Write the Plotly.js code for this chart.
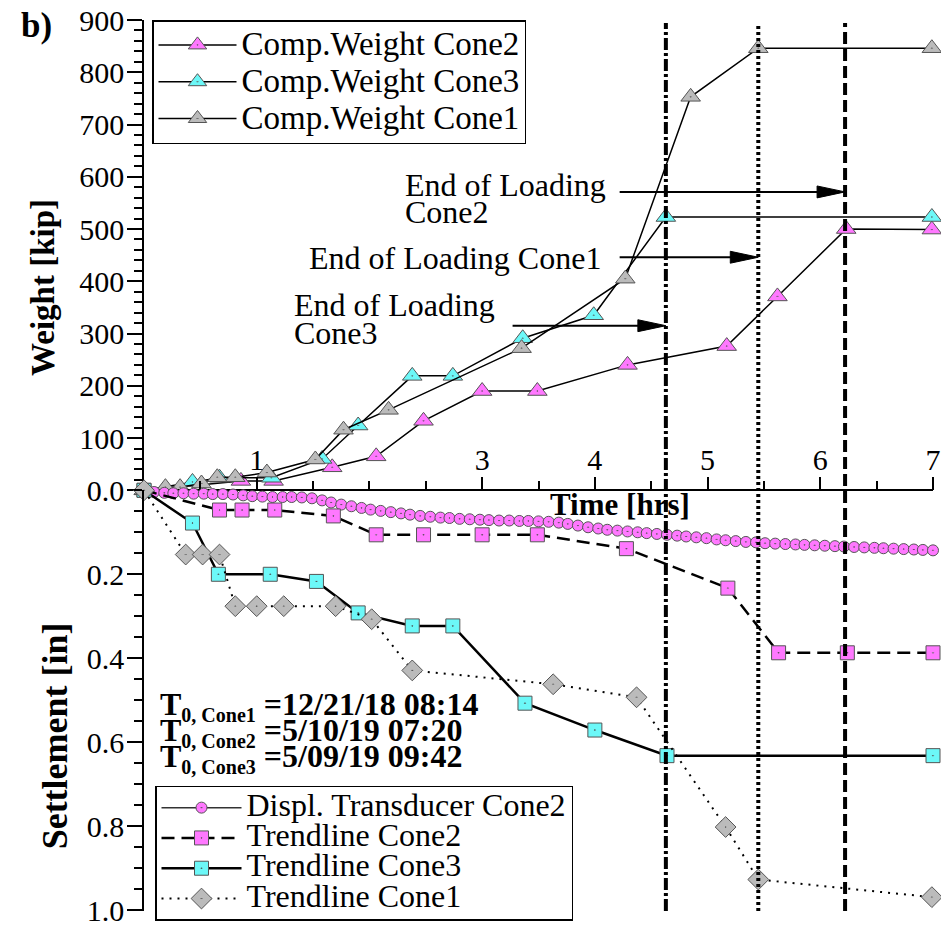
<!DOCTYPE html>
<html><head><meta charset="utf-8">
<script src="https://cdn.plot.ly/plotly-3.0.1.min.js"></script>
<style>html,body{margin:0;padding:0;background:#fff}#chart{width:941px;height:929px}</style>
</head><body><div id="chart"></div>
<script>
const FONT = '"Liberation Serif", "Times New Roman", Times, serif';
const MAGENTA = '#FF78FF', CYAN = '#6CF8F8', GRAY = '#BBBBBB', EDGE = '#555555';

// ---- Weight [kip] vs Time [hrs] ----
const cone2WeightTime = [0, 0.86, 1.15, 1.67, 2.06, 2.48, 3.00, 3.49, 4.29, 5.17, 5.62, 6.23, 6.99];
const cone2Weight     = [0, 18, 18, 44, 65, 133, 190, 190, 240, 276, 371, 500, 499];
const cone3WeightTime = [0, 0.43, 0.67, 1.13, 1.58, 1.90, 2.38, 2.74, 3.36, 3.99, 4.63, 6.99];
const cone3Weight     = [0, 16, 24, 24, 60, 124, 219, 219, 291, 335, 523, 523];
const cone1WeightTime = [0, 0.19, 0.32, 0.51, 0.65, 0.81, 1.09, 1.52, 1.77, 2.17, 3.35, 4.27, 4.85, 5.45, 6.99];
const cone1Weight     = [0, 6, 6, 13, 25, 25, 34, 59, 116, 154, 272, 405, 753, 846, 846];

// ---- Settlement [in] vs Time [hrs] ----
const displTime = [0, 0.09, 0.18, 0.26, 0.35, 0.44, 0.53, 0.61, 0.70, 0.79, 0.88, 0.96, 1.05, 1.14, 1.23, 1.31, 1.40, 1.49, 1.58, 1.66,
  1.75, 1.84, 1.93, 2.01, 2.10, 2.19, 2.28, 2.36, 2.45, 2.54, 2.63, 2.71, 2.80, 2.89, 2.98, 3.06, 3.15, 3.24, 3.33, 3.41,
  3.50, 3.59, 3.68, 3.76, 3.85, 3.94, 4.03, 4.11, 4.20, 4.29, 4.38, 4.46, 4.55, 4.64, 4.73, 4.81, 4.90, 4.99, 5.08, 5.16,
  5.25, 5.34, 5.43, 5.51, 5.60, 5.69, 5.78, 5.86, 5.95, 6.04, 6.13, 6.21, 6.30, 6.39, 6.48, 6.56, 6.65, 6.74, 6.83, 6.91, 7.00];
const displSettle = [0, 0.004, 0.006, 0.007, 0.007, 0.008, 0.008, 0.009, 0.009, 0.010, 0.012, 0.014, 0.015, 0.016, 0.016, 0.016, 0.017, 0.019, 0.024, 0.029,
  0.034, 0.038, 0.042, 0.046, 0.049, 0.052, 0.055, 0.058, 0.061, 0.063, 0.065, 0.066, 0.068, 0.069, 0.070, 0.071, 0.072, 0.072, 0.073, 0.073,
  0.074, 0.075, 0.077, 0.080, 0.084, 0.088, 0.091, 0.094, 0.096, 0.098, 0.100, 0.102, 0.104, 0.106, 0.108, 0.110, 0.112, 0.114, 0.117, 0.119,
  0.121, 0.123, 0.124, 0.126, 0.127, 0.128, 0.129, 0.130, 0.131, 0.132, 0.133, 0.134, 0.135, 0.136, 0.137, 0.138, 0.139, 0.140, 0.141, 0.142, 0.143];
const trend2Time   = [0, 0.67, 0.87, 1.16, 1.68, 2.06, 2.48, 3.00, 3.49, 4.28, 5.18, 5.63, 6.24, 7.00];
const trend2Settle = [0, 0.047, 0.047, 0.047, 0.061, 0.106, 0.106, 0.106, 0.106, 0.139, 0.233, 0.387, 0.387, 0.387];
const trend3Time   = [0, 0.43, 0.66, 1.12, 1.53, 1.90, 2.38, 2.74, 3.38, 4.00, 4.64, 7.00];
const trend3Settle = [0, 0.078, 0.200, 0.200, 0.217, 0.292, 0.323, 0.323, 0.507, 0.571, 0.632, 0.632];
const trend1Time   = [0, 0.37, 0.52, 0.67, 0.81, 1.00, 1.24, 1.70, 2.02, 2.38, 3.63, 4.37, 5.16, 5.45, 6.99];
const trend1Settle = [0, 0.153, 0.153, 0.153, 0.276, 0.276, 0.276, 0.276, 0.307, 0.429, 0.462, 0.493, 0.802, 0.927, 0.969];

// ---- End of loading markers ----
const endLabels   = ['Cone3', 'Cone1', 'Cone2'];
const endTimes    = [4.63, 5.45, 6.22];
const endDashes   = ['12px,3px,3px,3px', '3px,3px', '12px,5px'];
const arrowStart  = [3.27, 4.22, 4.22];
const arrowLevel  = [315, 446, 571];

// ---- axis ticks ----
const xTickVals = [1, 3, 4, 5, 6, 7];
const xTickText = ['1', '3', '4', '5', '6', '7'];
const xMinorVals = [0.5, 1.5, 2, 2.5, 3.5, 4.5, 5.5, 6.5];
const wTickVals = [0, 100, 200, 300, 400, 500, 600, 700, 800, 900];
const wTickText = ['0.0', '100', '200', '300', '400', '500', '600', '700', '800', '900'];
const sTickVals = [0.2, 0.4, 0.6, 0.8, 1.0];
const sTickText = ['0.2', '0.4', '0.6', '0.8', '1.0'];

const W = 941, H = 929, ML = 144, MR = 8, MT = 20, MB = 11;
const plotW = W - ML - MR, plotH = H - MT - MB;
const split = 424 / plotH;                 // settlement part of the height
const pxPerHr = plotW / 7;
const kipPerPx = 900 / (plotH * (1 - split));

const big = s => '<span style="font-size:33px">' + s + '</span>';
const big2 = s => '<span style="font-size:32px">' + s + '</span>';

function tri(name, x, y, color) {
  return {type: 'scatter', mode: 'lines+markers', name: big(name), x: x, y: y, xaxis: 'x', yaxis: 'y', legend: 'legend',
    cliponaxis: false, line: {color: 'black', width: 1.5},
    marker: {symbol: 'triangle-up-dot', size: 17, color: color, line: {color: EDGE, width: 1}}};
}
const traces = [
  tri('Comp.Weight Cone2', cone2WeightTime, cone2Weight, MAGENTA),
  tri('Comp.Weight Cone3', cone3WeightTime, cone3Weight, CYAN),
  tri('Comp.Weight Cone1', cone1WeightTime, cone1Weight, GRAY),
  {type: 'scatter', mode: 'lines+markers', name: big2('Displ. Transducer Cone2'), x: displTime, y: displSettle, yaxis: 'y2', legend: 'legend2',
    cliponaxis: false, line: {color: '#333', width: 1.5},
    marker: {symbol: 'circle-dot', size: 11, color: MAGENTA, line: {color: EDGE, width: 1}}},
  {type: 'scatter', mode: 'lines+markers', name: big2('Trendline Cone2'), x: trend2Time, y: trend2Settle, yaxis: 'y2', legend: 'legend2',
    cliponaxis: false, line: {color: 'black', width: 2.5, dash: '13px,7px'},
    marker: {symbol: 'square-dot', size: 14, color: MAGENTA, line: {color: EDGE, width: 1}}},
  {type: 'scatter', mode: 'lines+markers', name: big2('Trendline Cone3'), x: trend3Time, y: trend3Settle, yaxis: 'y2', legend: 'legend2',
    cliponaxis: false, line: {color: 'black', width: 2.5},
    marker: {symbol: 'square-dot', size: 14, color: CYAN, line: {color: EDGE, width: 1}}},
  {type: 'scatter', mode: 'lines+markers', name: big2('Trendline Cone1'), x: trend1Time, y: trend1Settle, yaxis: 'y2', legend: 'legend2',
    cliponaxis: false, line: {color: 'black', width: 2, dash: '2px,6px'},
    marker: {symbol: 'diamond-dot', size: 16, color: GRAY, line: {color: EDGE, width: 1}}}
];

const shapes = [];
endTimes.forEach((t, i) => {
  shapes.push({type: 'line', xref: 'x', yref: 'paper', x0: t, x1: t, y0: 0, y1: (plotH - 3) / plotH,
    line: {color: 'black', width: 4, dash: endDashes[i]}});
  const hl = 28 / pxPerHr, hw = 6 * kipPerPx;
  shapes.push({type: 'line', xref: 'x', yref: 'y', x0: arrowStart[i], x1: t - hl * 0.5, y0: arrowLevel[i], y1: arrowLevel[i],
    line: {color: 'black', width: 2}});
  shapes.push({type: 'path', xref: 'x', yref: 'y', fillcolor: 'black', line: {color: 'black', width: 1},
    path: 'M' + t + ',' + arrowLevel[i] + ' L' + (t - hl) + ',' + (arrowLevel[i] + hw) + ' L' + (t - hl) + ',' + (arrowLevel[i] - hw) + ' Z'});
});

const tf = {family: FONT, size: 32, color: 'black'};
const px2x = px => (px - ML) / plotW;
const py2y = py => (H - MB - py) / plotH;
const annotations = [
  {xref: 'x', yref: 'y', x: 2.30, y: 585, text: 'End of Loading', showarrow: false, xanchor: 'left', yanchor: 'middle', font: tf},
  {xref: 'x', yref: 'y', x: 2.30, y: 533, text: 'Cone2', showarrow: false, xanchor: 'left', yanchor: 'middle', font: tf},
  {xref: 'x', yref: 'y', x: 1.45, y: 444, text: 'End of Loading Cone1', showarrow: false, xanchor: 'left', yanchor: 'middle', font: tf},
  {xref: 'x', yref: 'y', x: 1.31, y: 355, text: 'End of Loading', showarrow: false, xanchor: 'left', yanchor: 'middle', font: tf},
  {xref: 'x', yref: 'y', x: 1.31, y: 301, text: 'Cone3', showarrow: false, xanchor: 'left', yanchor: 'middle', font: tf},
  {xref: 'paper', yref: 'paper', x: px2x(620), y: py2y(508), text: '<b>Time [hrs]</b>', showarrow: false, xanchor: 'center', yanchor: 'middle',
    font: {family: FONT, size: 31, color: 'black'}},
  {xref: 'paper', yref: 'paper', x: px2x(43), y: py2y(290), text: '<b>Weight [kip]</b>', textangle: -90, showarrow: false,
    xanchor: 'center', yanchor: 'middle', font: {family: FONT, size: 33, color: 'black'}},
  {xref: 'paper', yref: 'paper', x: px2x(55), y: py2y(742), text: '<b>Settlement [in]</b>', textangle: -90, showarrow: false,
    xanchor: 'center', yanchor: 'middle', font: {family: FONT, size: 36, color: 'black'}},
  {xref: 'paper', yref: 'paper', x: px2x(19), y: py2y(26), text: '<b>b)</b>', showarrow: false, xanchor: 'left', yanchor: 'middle',
    font: {family: FONT, size: 35, color: 'black'}}
];
const t0Lines = [['Cone1', '=12/21/18 08:14', 711], ['Cone2', '=5/10/19 07:20', 738], ['Cone3', '=5/09/19 09:42', 764]];
t0Lines.forEach(l => annotations.push({xref: 'paper', yref: 'paper', x: px2x(158), y: py2y(l[2]), showarrow: false,
  xanchor: 'left', yanchor: 'middle', font: {family: FONT, size: 32, color: 'black'},
  text: '<b>T<sub><span style="font-size:20px">0, ' + l[0] + '</span></sub> ' + l[1] + '</b>'}));

const axisCommon = {showline: true, linecolor: 'black', linewidth: 1.5, showgrid: false, zeroline: false,
  ticks: 'outside', tickcolor: 'black', tickwidth: 1.5, tickfont: {family: FONT, size: 30, color: 'black'}};

const layout = {
  width: W, height: H, margin: {l: ML, r: MR, t: MT, b: MB},
  paper_bgcolor: 'white', plot_bgcolor: 'white',
  font: {family: FONT, color: 'black', size: 29},
  showlegend: true,
  xaxis: Object.assign({}, axisCommon, {domain: [0, 1], range: [0, 7], anchor: 'free', position: split, side: 'top',
    tickmode: 'array', tickvals: xTickVals, ticktext: xTickText, ticklen: 13, ticklabelstandoff: -5,
    minor: {tickmode: 'array', tickvals: xMinorVals, ticks: 'outside', ticklen: 9, tickwidth: 1.5, tickcolor: 'black'}}),
  yaxis: Object.assign({}, axisCommon, {domain: [split, 1], range: [0, 900], anchor: 'x',
    tickmode: 'array', tickvals: wTickVals, ticktext: wTickText, ticklen: 15, ticklabelstandoff: -3,
    minor: {tick0: 0, dtick: 20, ticks: 'outside', ticklen: 8, tickwidth: 1.5, tickcolor: 'black'}}),
  yaxis2: Object.assign({}, axisCommon, {domain: [0, split], range: [1.002, 0], anchor: 'x',
    tickmode: 'array', tickvals: sTickVals, ticktext: sTickText, ticklen: 15, ticklabelstandoff: -3,
    minor: {tick0: 0, dtick: 0.05, ticks: 'outside', ticklen: 8, tickwidth: 1.5, tickcolor: 'black'}}),
  legend: {x: px2x(152), y: 1, xanchor: 'left', yanchor: 'top', bgcolor: 'white', bordercolor: 'black', borderwidth: 1.5,
    font: {family: FONT, size: 26, color: 'black'}, itemwidth: 78, tracegroupgap: 0},
  legend2: {x: px2x(155), y: py2y(792), xanchor: 'left', yanchor: 'top', bgcolor: 'white', bordercolor: 'black', borderwidth: 1.5,
    font: {family: FONT, size: 21, color: 'black'}, itemwidth: 80, tracegroupgap: 0},
  shapes: shapes,
  annotations: annotations
};

Plotly.newPlot('chart', traces, layout, {displayModeBar: false, responsive: false});
</script>
</body></html>
